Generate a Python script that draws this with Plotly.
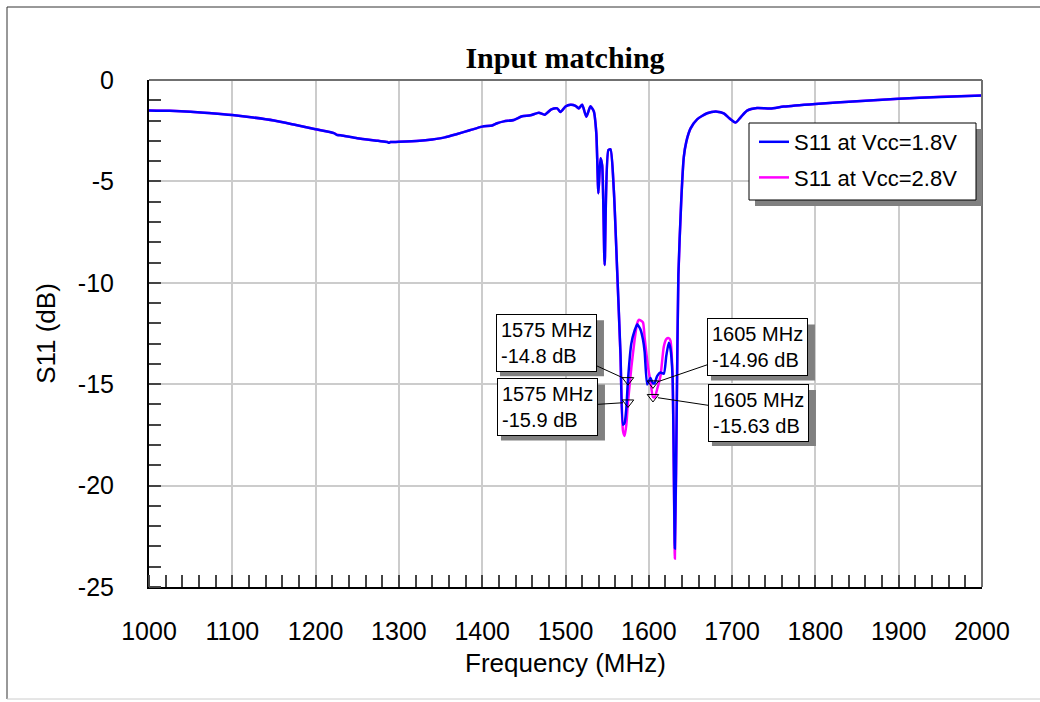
import plotly.graph_objects as go

# Measured input reflection (S11) of the LNA at two supply voltages
freq_mhz = [
    1000, 1025, 1050, 1075, 1100, 1125, 1150, 1175, 1200, 1222, 1226, 1230,
    1250, 1275, 1286, 1288, 1290, 1300, 1325, 1340, 1355, 1370, 1385, 1400,
    1412, 1418, 1426, 1438, 1448, 1458, 1468, 1475, 1483, 1490, 1494, 1500,
    1506, 1512, 1516, 1520, 1525, 1530, 1534, 1537, 1539.5, 1542, 1544, 1547,
    1551.5, 1554, 1558, 1562, 1566, 1569, 1571, 1573, 1575, 1579, 1583, 1586,
    1588, 1590, 1593, 1595, 1598, 1600, 1602, 1605, 1607, 1610, 1614, 1618,
    1621, 1624, 1626, 1628.5, 1631.3, 1633.6, 1635.5, 1639, 1642, 1645, 1650,
    1658, 1670, 1682, 1690, 1697, 1704, 1710, 1718, 1730, 1746, 1762, 1800,
    1850, 1900, 1950, 2000,
]

s11_vcc_1v8 = [
    -1.50, -1.52, -1.57, -1.64, -1.73, -1.85, -2.00, -2.21, -2.43, -2.62, -2.72, -2.72,
    -2.87, -3.00, -3.06, -3.10, -3.06, -3.05, -3.00, -2.93, -2.83, -2.66, -2.48, -2.30,
    -2.24, -2.13, -2.04, -1.97, -1.79, -1.74, -1.61, -1.71, -1.45, -1.40, -1.58, -1.31,
    -1.22, -1.27, -1.40, -1.22, -1.81, -1.30, -1.55, -2.63, -5.59, -3.86, -4.20, -9.12,
    -3.45, -3.42, -5.42, -9.37, -13.48, -17.00, -16.90, -16.20, -14.80, -13.00, -12.35, -12.05,
    -12.15, -12.30, -12.80, -13.40, -15.02, -14.85, -14.70, -14.96, -14.95, -14.60, -14.42, -14.48,
    -13.60, -12.95, -13.25, -14.60, -23.10, -15.90, -9.60, -5.90, -3.80, -3.05, -2.40,
    -1.94, -1.64, -1.56, -1.65, -1.90, -2.10, -1.85, -1.51, -1.38, -1.41, -1.31, -1.18,
    -1.05, -0.92, -0.84, -0.76,
]

s11_vcc_2v8 = [
    -1.50, -1.52, -1.56, -1.64, -1.73, -1.85, -2.00, -2.21, -2.43, -2.62, -2.70, -2.72,
    -2.87, -3.00, -3.05, -3.08, -3.06, -3.05, -3.00, -2.93, -2.83, -2.66, -2.48, -2.30,
    -2.24, -2.13, -2.04, -1.97, -1.79, -1.74, -1.61, -1.71, -1.45, -1.40, -1.58, -1.31,
    -1.22, -1.27, -1.40, -1.22, -1.81, -1.30, -1.55, -2.63, -5.59, -3.86, -4.20, -9.12,
    -3.45, -3.42, -5.42, -9.40, -13.60, -17.30, -17.55, -17.00, -15.90, -14.20, -12.80, -12.00,
    -11.83, -11.85, -11.95, -12.70, -13.80, -14.40, -14.85, -15.63, -15.65, -15.25, -14.60, -13.15,
    -12.78, -12.73, -12.85, -14.50, -23.60, -16.10, -9.70, -5.90, -3.80, -3.05, -2.40,
    -1.94, -1.64, -1.56, -1.65, -1.90, -2.10, -1.85, -1.51, -1.38, -1.41, -1.31, -1.18,
    -1.05, -0.92, -0.83, -0.76,
]

series_names = ["S11 at Vcc=1.8V", "S11 at Vcc=2.8V"]
series_colors = ["#0000FF", "#FF00FF"]

# Marker readouts at the band edges of interest
marker_freq = [1575, 1575, 1605, 1605]
marker_s11 = [-14.8, -15.9, -14.96, -15.63]
# pixel offset of each readout box from its marker
marker_box_offset = [(-81, -37), (-80, 5), (105, -36), (106, 16)]

x_ticks = list(range(1000, 2001, 100))
y_ticks = [0, -5, -10, -15, -20, -25]
y_tick_text = [str(v) for v in y_ticks]  # plain hyphen minus

W, H = 1040, 702
ML, MR, MT, MB = 149, 58, 80, 115
PW, PH = W - ML - MR, H - MT - MB


def px_x(px):
    return (px - ML) / PW


def px_y(py):
    return (H - MB - py) / PH


FONT = "Arial, Liberation Sans, sans-serif"

fig = go.Figure()

# 2.8 V drawn first so the 1.8 V curve sits on top
fig.add_trace(go.Scatter(
    x=freq_mhz, y=s11_vcc_2v8, mode="lines", name=series_names[1],
    line=dict(color=series_colors[1], width=2.5, shape="spline", smoothing=0.6),
    legendrank=2, legendgroup="b",
))
fig.add_trace(go.Scatter(
    x=freq_mhz, y=s11_vcc_1v8, mode="lines", name=series_names[0],
    line=dict(color=series_colors[0], width=2.5, shape="spline", smoothing=0.6),
    legendrank=1, legendgroup="a",
))
fig.add_trace(go.Scatter(
    x=marker_freq, y=marker_s11, mode="markers", showlegend=False,
    marker=dict(symbol="triangle-down-open", size=10, color="black",
                line=dict(width=1, color="black")),
))

shadow = "#808080"
SHADOW = 5
BOX_W, BOX_H = 104, 56  # readout box size in pixels

annotations = []
readout_shadows = []
for f, v, (ax, ay) in zip(marker_freq, marker_s11, marker_box_offset):
    annotations.append(dict(
        x=f, y=v, xref="x", yref="y", text=f"{f} MHz<br>{v:g} dB",
        showarrow=True, ax=ax, ay=ay, arrowhead=0, arrowwidth=1,
        arrowcolor="black", standoff=5,
        font=dict(family=FONT, size=20, color="black"), align="left",
        bgcolor="white", bordercolor="black", borderwidth=1, borderpad=4,
    ))
    # drop shadow behind the readout box, anchored at the marker
    readout_shadows.append(dict(
        type="rect", xref="x", yref="y", xsizemode="pixel", ysizemode="pixel",
        xanchor=f, yanchor=v,
        x0=ax - BOX_W / 2 + SHADOW, x1=ax + BOX_W / 2 + SHADOW,
        y0=-ay - BOX_H / 2 - SHADOW, y1=-ay + BOX_H / 2 - SHADOW,
        fillcolor=shadow, line=dict(width=0), layer="above",
    ))

# legend panel geometry (pixels)
LG_X0, LG_X1, LG_Y0, LG_Y1 = 749, 976, 123, 200
LG_SHADOW = 6

shapes = [
    # outer frame
    dict(type="line", xref="paper", yref="paper", x0=px_x(7), x1=px_x(1045),
         y0=px_y(7), y1=px_y(7), line=dict(color="#333333", width=1)),
    dict(type="line", xref="paper", yref="paper", x0=px_x(7), x1=px_x(7),
         y0=px_y(7), y1=px_y(699), line=dict(color="#333333", width=1)),
    dict(type="line", xref="paper", yref="paper", x0=px_x(7), x1=px_x(1045),
         y0=px_y(699), y1=px_y(699), line=dict(color="#cccccc", width=1)),
    # plot frame, top and right
    dict(type="line", xref="paper", yref="paper", x0=0, x1=1, y0=1, y1=1,
         line=dict(color="#707070", width=2)),
    dict(type="line", xref="paper", yref="paper", x0=1, x1=1, y0=0, y1=1,
         line=dict(color="#707070", width=2)),
    # legend panel with drop shadow
    dict(type="rect", xref="paper", yref="paper",
         x0=px_x(LG_X0 + LG_SHADOW), x1=px_x(LG_X1 + LG_SHADOW),
         y0=px_y(LG_Y1 + LG_SHADOW), y1=px_y(LG_Y0 + LG_SHADOW),
         fillcolor=shadow, line=dict(width=0), layer="above"),
    dict(type="rect", xref="paper", yref="paper",
         x0=px_x(LG_X0), x1=px_x(LG_X1), y0=px_y(LG_Y1), y1=px_y(LG_Y0),
         fillcolor="white", line=dict(color="black", width=1), layer="above"),
] + readout_shadows

fig.update_layout(
    width=W, height=H,
    margin=dict(l=ML, r=MR, t=MT, b=MB),
    paper_bgcolor="white", plot_bgcolor="white",
    title=dict(text="<b>Input matching</b>", x=px_x(565), xref="paper",
               y=1 - 57 / H, yanchor="middle", xanchor="center",
               font=dict(family="Times New Roman, Liberation Serif, serif",
                         size=30, color="black")),
    font=dict(family=FONT, color="black"),
    showlegend=True,
    legend=dict(x=px_x(754), y=px_y(121), xanchor="left", yanchor="top",
                bgcolor="rgba(0,0,0,0)", borderwidth=0,
                font=dict(family=FONT, size=22, color="black"),
                tracegroupgap=4, itemwidth=30),
    annotations=annotations,
    shapes=shapes,
)

fig.update_xaxes(
    range=[1000, 2000], tickvals=x_ticks, ticks="",
    showgrid=True, gridcolor="#cccccc", gridwidth=1.5,
    showline=True, linecolor="black", linewidth=2,
    tickfont=dict(family=FONT, size=25, color="black"), ticklabelstandoff=21,
    minor=dict(dtick=20, tick0=1000, ticks="inside", ticklen=12,
               tickcolor="#444444", tickwidth=1.5, showgrid=False),
    title=dict(text="Frequency (MHz)", font=dict(family=FONT, size=26), standoff=10),
    zeroline=False,
)
fig.update_yaxes(
    range=[-25, 0], tickvals=y_ticks, ticktext=y_tick_text, ticks="",
    showgrid=True, gridcolor="#cccccc", gridwidth=1.5,
    showline=True, linecolor="black", linewidth=2,
    tickfont=dict(family=FONT, size=25, color="black"), ticklabelstandoff=28,
    minor=dict(dtick=1, tick0=0, ticks="inside", ticklen=12,
               tickcolor="#444444", tickwidth=1.5, showgrid=False),
    title=dict(text="S11 (dB)", font=dict(family=FONT, size=26), standoff=15),
    zeroline=False,
)

fig.write_html("out.html")
